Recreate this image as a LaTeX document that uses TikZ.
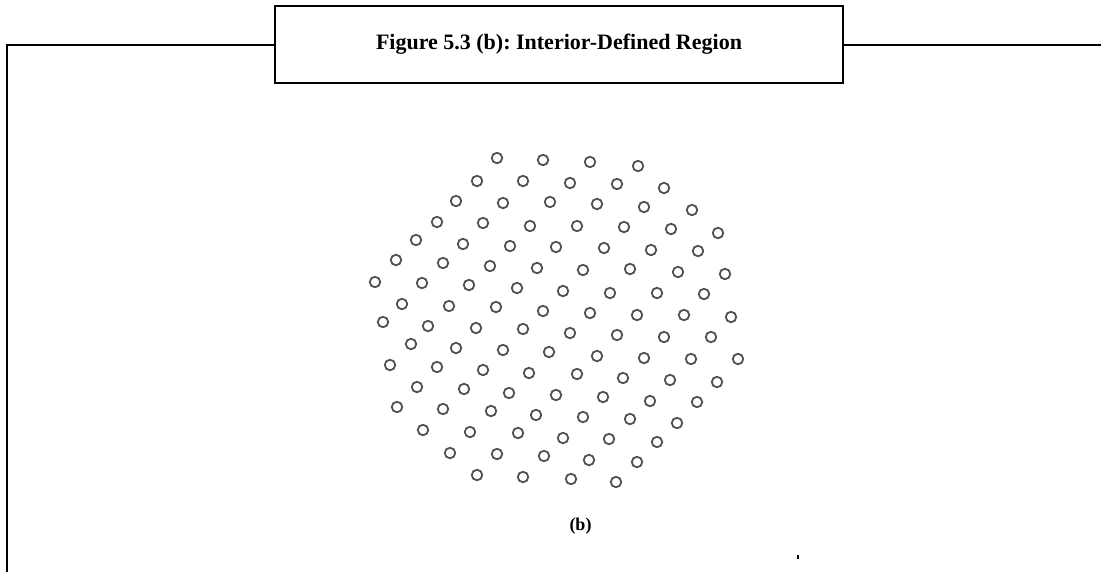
\documentclass[tikz,border=0pt]{standalone}
\usepackage{fontspec}
\setmainfont{Liberation Serif}
\frenchspacing

\begin{document}
\begin{tikzpicture}[x=1pt, y=-1pt,
  dot/.style={draw=black!68, line width=1.8pt, circle, inner sep=0pt, minimum size=10.5pt},
  titlebox/.style={draw, line width=2pt, rectangle, minimum width=568pt, minimum height=77pt,
    inner sep=0pt, font=\bfseries\fontsize{22}{26}\selectfont},
  frame/.style={line width=2pt}
]

  \useasboundingbox (0,0) rectangle (1101,571);

  % Title box on the frame line
  \node[titlebox] (title) at (559,44.5) {Figure 5.3 (b): Interior-Defined Region};

  % Frame corners
  \coordinate (topleft) at (7,44.5);
  \coordinate (botleft) at (7,572);
  \coordinate (topright) at (1102,44.5);

  \draw[frame] (title.west) -- (topleft) -- (botleft);
  \draw[frame] (title.east) -- (topright);

  % Interior points of the region, row by row
  \foreach \px/\py [count=\k] in {
      497/158, 543/160, 590/162, 638/166,
      477/181, 523/181, 570/183, 617/184, 664/188,
      456/201, 503/203, 550/202, 597/204, 644/207, 692/210,
      437/222, 483/223, 530/226, 577/226, 624/227, 671/229, 718/233,
      416/240, 463/244, 510/246, 556/247, 604/248, 651/250, 698/251,
      396/260, 443/263, 490/266, 537/268, 583/270, 630/269, 678/272, 725/274,
      375/282, 422/283, 469/285, 517/288, 563/291, 610/293, 657/293, 704/294,
      402/304, 449/306, 496/307, 543/311, 590/313, 637/315, 684/315, 731/317,
      383/322, 428/326, 476/328, 523/329, 570/333, 617/335, 664/337, 711/337,
      411/344, 456/348, 503/350, 549/352, 597/356, 644/358, 691/359, 738/359,
      390/365, 437/367, 483/370, 529/373, 577/374, 623/378, 670/380, 717/382,
      417/387, 464/389, 509/393, 556/395, 603/397, 650/401, 697/402,
      397/407, 443/409, 491/411, 536/415, 583/417, 630/419, 677/423,
      423/430, 470/432, 518/433, 563/438, 609/439, 657/442,
      450/453, 497/454, 544/456, 589/460, 637/462,
      477/475, 523/477, 571/479, 616/482}
    \node[dot] (d\k) at (\px,\py) {};

  % Sub-figure label
  \node[font=\bfseries\fontsize{18}{21}\selectfont] (sublabel) at (580.5,526) {(b)};

  % Stray tick mark
  \coordinate (tick) at (798,555);
  \draw[line width=1.3pt] (tick) -- ++(0,4);

\end{tikzpicture}
\end{document}
